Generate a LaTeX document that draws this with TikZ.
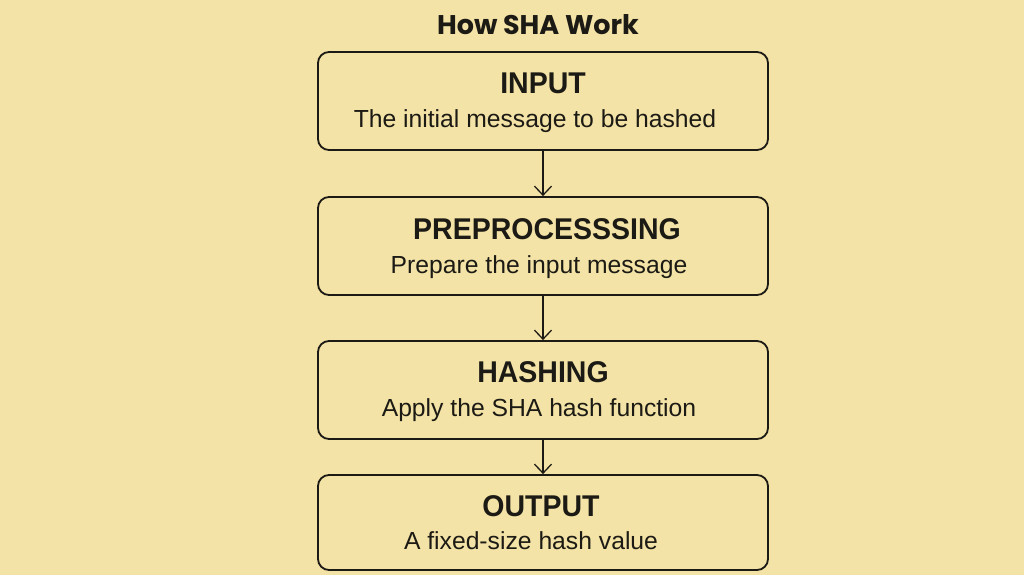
\documentclass[tikz,border=0pt]{standalone}
\usepackage{fontspec}
\setmainfont{Liberation Sans}
\newfontfamily\titlefont{Poppins}
\newfontfamily\headfont[FakeStretch=0.95]{Liberation Sans}
\usetikzlibrary{arrows.meta}
\definecolor{bg}{HTML}{F4E3A7}
\definecolor{ink}{HTML}{1C1A14}
\tikzset{
  stepbox/.style={draw=ink, line width=1.8pt, rounded corners=11pt, fill=bg,
    minimum width=450pt, minimum height=98pt, inner sep=0pt},
  headtxt/.style={anchor=base, inner sep=0pt, text=ink, font=\headfont\bfseries\fontsize{30}{32}\selectfont},
  bodytxt/.style={anchor=base, inner sep=0pt, text=ink, font=\fontsize{24.7}{27}\selectfont},
  flow/.style={draw=ink, line width=1.3pt, -{Straight Barb[length=9pt,width=17pt,line width=1.3pt]}}
}
\begin{document}
\begin{tikzpicture}[x=1pt,y=-1pt]
\path[fill=bg] (0,0) rectangle (1024,575);
\useasboundingbox (0,0) rectangle (1024,575);
\node[anchor=base, inner sep=0pt, text=ink, font=\titlefont\bfseries\fontsize{27}{30}\selectfont] (title) at (538,35) {How SHA Work};

\node[stepbox] (b1) at (543,101) {};
\node[stepbox] (b2) at (543,246) {};
\node[stepbox] (b3) at (543,390) {};
\node[stepbox, minimum height=95pt] (b4) at (543,522.5) {};

\node[headtxt] (h1) at (543,94) {INPUT};
\node[bodytxt] (t1) at (535,128) {The initial message to be hashed};
\node[headtxt] (h2) at (547,239) {PREPROCESSSING};
\node[bodytxt] (t2) at (539,273) {Prepare the input message};
\node[headtxt] (h3) at (543,382) {HASHING};
\node[bodytxt] (t3) at (539,416) {Apply the SHA hash function};
\node[headtxt] (h4) at (541,516) {OUTPUT};
\node[bodytxt] (t4) at (531,549) {A fixed-size hash value};

\draw[flow] (b1.south) -- (b2.north);
\draw[flow] (b2.south) -- (b3.north);
\draw[flow] (b3.south) -- (b4.north);
\end{tikzpicture}
\end{document}
